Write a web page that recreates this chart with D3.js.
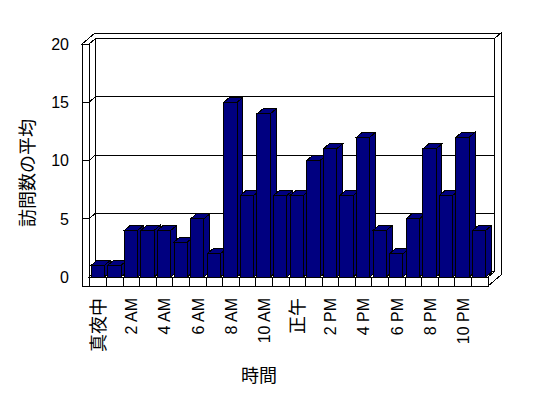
<!DOCTYPE html>
<html><head><meta charset="utf-8">
<script src="https://cdn.jsdelivr.net/npm/d3@7"></script>
<style>
html,body{margin:0;padding:0;background:#fff;}
svg{display:block;}
</style></head>
<body>
<script>
// ---- data ----
const categories = ["真夜中","1 AM","2 AM","3 AM","4 AM","5 AM","6 AM","7 AM","8 AM","9 AM","10 AM","11 AM",
  "正午","1 PM","2 PM","3 PM","4 PM","5 PM","6 PM","7 PM","8 PM","9 PM","10 PM","11 PM"];
const visits = [1,1,4,4,4,3,5,2,15,7,14,7,7,10,11,7,12,4,2,5,11,7,12,4];
const yTicks = [0,5,10,15,20];
const yTickLabels = ["0","5","10","15","20"];
const xTitle = "時間";
const yTitle = "訪問数の平均";

// ---- layout ----
const W = 548, H = 398;
const DX = 6.5, DY = -5.5;           // one depth unit
const P = (x, yy, z) => [x + DX * z, yy + DY * z];
const wallL = 82, wallI = 89, xEnd = 488, floorB = 286;
const BAR_DEPTH = 0.9;
const latin = "'Liberation Sans', Arial, 'Noto Sans CJK JP', sans-serif";
const cjk = "'Noto Sans CJK JP', 'Liberation Sans', sans-serif";

const svg = d3.select("body").append("svg").attr("width", W).attr("height", H)
  .attr("viewBox", `0 0 ${W} ${H}`);
svg.append("rect").attr("width", W).attr("height", H).attr("fill", "#fff");

const x = d3.scaleBand().domain(categories).range([90, xEnd]).padding(0);
const y = d3.scaleLinear().domain([0, 20]).range([277, 44]);
const yTop = y(20), yFloor = y(0);

const g = svg.append("g").attr("shape-rendering", "crispEdges");
const poly = (pts, fill) => g.append("polygon")
  .attr("points", pts.map(p => p.join(",")).join(" "))
  .attr("fill", fill).attr("stroke", "#000").attr("stroke-width", 1);
const line = (a, b) => g.append("line").attr("x1", a[0]).attr("y1", a[1]).attr("x2", b[0]).attr("y2", b[1])
  .attr("stroke", "#000").attr("stroke-width", 1);

// top face of walls
poly([P(wallL, yTop, 0), P(wallI, yTop, 0), P(wallI, yTop, 1), P(xEnd, yTop, 1), P(xEnd, yTop, 2), P(wallL, yTop, 2)], "#fff");
// back wall front face
poly([P(wallI, yTop, 1), P(xEnd, yTop, 1), P(xEnd, yFloor, 1), P(wallI, yFloor, 1)], "#fff");
// right face (back wall + floor)
poly([P(xEnd, yTop, 1), P(xEnd, yTop, 2), P(xEnd, floorB, 2), P(xEnd, floorB, 0), P(xEnd, yFloor, 0), P(xEnd, yFloor, 1)], "#fff");
// left wall front face and inner face
poly([P(wallL, yTop, 0), P(wallI, yTop, 0), P(wallI, floorB, 0), P(wallL, floorB, 0)], "#fff");
poly([P(wallI, yTop, 0), P(wallI, yTop, 1), P(wallI, yFloor, 1), P(wallI, yFloor, 0)], "#fff");

// gridlines
yTicks.filter(v => v > 0 && v < 20).forEach(v => {
  line(P(wallI, y(v), 1), P(xEnd, y(v), 1));
  line(P(wallI, y(v), 0), P(wallI, y(v), 1));
  line(P(wallL, y(v), 0), P(wallI, y(v), 0));
});

// floor top + front
poly([P(wallI, yFloor, 0), P(xEnd, yFloor, 0), P(xEnd, yFloor, 1), P(wallI, yFloor, 1)], "#fff");
poly([P(wallI, yFloor, 0), P(xEnd, yFloor, 0), P(xEnd, floorB, 0), P(wallI, floorB, 0)], "#fff");
categories.slice(1).forEach(c => line([x(c), yFloor], [x(c), floorB]));

// bars
const bw = x.bandwidth();
categories.forEach((c, i) => {
  const v = visits[i];
  const x0 = x(c) + bw * 0.07, x1 = x0 + bw * 0.8;
  const yt = y(v), yb = y(0);
  const d = BAR_DEPTH;
  poly([P(x0, yt, 0), P(x1, yt, 0), P(x1, yb, 0), P(x0, yb, 0)], "#000080");
  poly([P(x0, yt, 0), P(x0, yt, d), P(x1, yt, d), P(x1, yt, 0)], "#000080");
  poly([P(x1, yt, 0), P(x1, yt, d), P(x1, yb, d), P(x1, yb, 0)], "#000080");
});

// y tick labels
yTicks.forEach((v, i) => {
  svg.append("text").attr("x", 69).attr("y", y(v)).attr("dy", "0.36em")
    .attr("text-anchor", "end").attr("font-family", latin).attr("font-size", 16)
    .text(yTickLabels[i]);
});

// x tick labels (every 2 hours)
categories.forEach((c, i) => {
  if (i % 2) return;
  const isCJK = /[^\x00-\x7F]/.test(c);
  svg.append("text")
    .attr("transform", `translate(${x(c) + bw / 2},298) rotate(-90)`)
    .attr("dy", "0.36em").attr("text-anchor", "end")
    .attr("font-family", isCJK ? cjk : latin).attr("font-size", isCJK ? 18 : 16)
    .text(c);
});

// axis titles
svg.append("text").attr("x", 259).attr("y", 376).attr("dy", "0.36em").attr("text-anchor", "middle")
  .attr("font-family", cjk).attr("font-size", 18).text(xTitle);
svg.append("text").attr("transform", "translate(28,173) rotate(-90)").attr("dy", "0.36em")
  .attr("text-anchor", "middle").attr("font-family", cjk).attr("font-size", 18).text(yTitle);
</script>
</body></html>
